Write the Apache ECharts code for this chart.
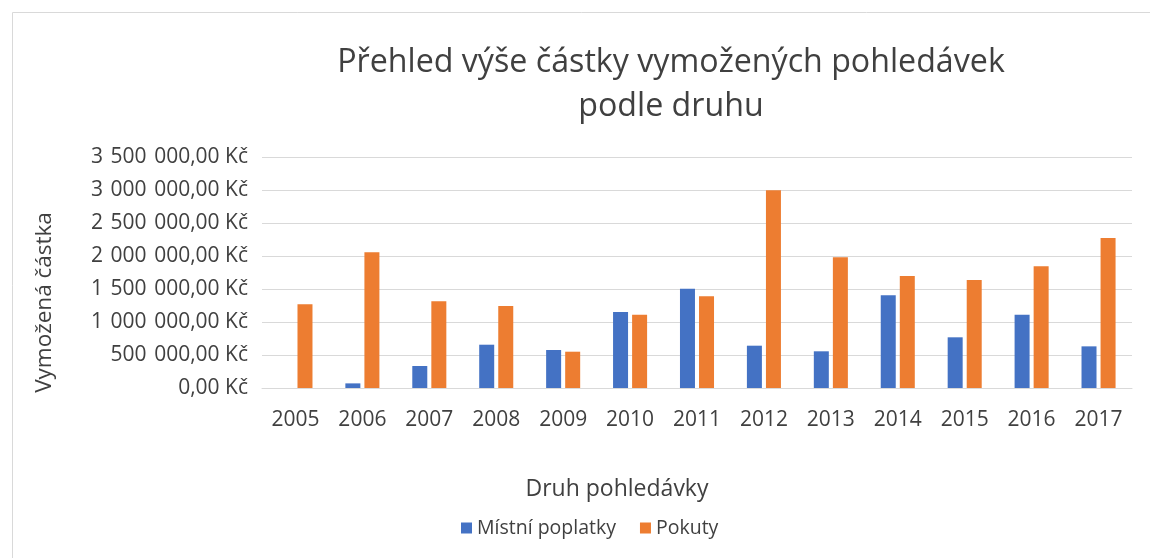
<!DOCTYPE html>
<html>
<head>
<meta charset="utf-8">
<script src="https://cdn.jsdelivr.net/npm/echarts@6/dist/echarts.min.js"></script>
<style>
  html, body { margin: 0; padding: 0; background: #fff; }
  #chart { width: 1150px; height: 558px; }
</style>
</head>
<body>
<div id="chart"></div>
<script>
const years = ['2005', '2006', '2007', '2008', '2009', '2010', '2011', '2012', '2013', '2014', '2015', '2016', '2017'];
const mistniPoplatky = [0, 70000, 333000, 656000, 576000, 1151000, 1505000, 641000, 556000, 1404000, 768000, 1111000, 631000];
const pokuty = [1268000, 2055000, 1313000, 1242000, 550000, 1111000, 1389000, 2995000, 1980000, 1697000, 1636000, 1843000, 2272000];

const font = 'Open Sans';

// thousands separator a bit wider than a plain space, like excel does
function formatKc(value) {
  const parts = value.toFixed(2).split('.');
  const whole = parts[0].replace(/\B(?=(\d{3})+(?!\d))/g, ' \u200A');
  return `${whole},${parts[1]} Kč`;
}

const chart = echarts.init(document.getElementById('chart'));

const option = {
  animation: false,
  color: ['#4472C4', '#ED7D31'],
  textStyle: {
    fontFamily: font,
  },
  title: {
    text: 'Přehled výše částky vymožených pohledávek\npodle druhu',
    left: 666,
    textAlign: 'center',
    top: 36,
    textStyle: {
      fontFamily: font,
      fontSize: 32.2,
      fontWeight: 'normal',
      color: '#404040',
      lineHeight: 44,
    },
  },
  graphic: [
    {
      type: 'rect',
      shape: { x: 12.5, y: 12.5, width: 1200, height: 600 },
      style: { fill: 'none', stroke: '#d9d9d9', lineWidth: 1 },
      silent: true,
    },
  ],
  grid: {
    left: 262,
    right: 18,
    top: 157,
    bottom: 170,
  },
  legend: {
    left: 456,
    top: 513,
    itemWidth: 11,
    itemHeight: 11,
    itemGap: 24,
    icon: 'rect',
    textStyle: {
      fontSize: 19.5,
      color: '#404040',
    },
    data: ['Místní poplatky', 'Pokuty'],
  },
  xAxis: {
    type: 'category',
    data: years,
    name: 'Druh pohledávky',
    nameLocation: 'middle',
    nameGap: 90,
    nameTextStyle: {
      fontSize: 23,
      color: '#404040',
      padding: [0, 160, 0, 0],
    },
    axisTick: { show: false },
    axisLine: { lineStyle: { color: '#d9d9d9', width: 1 } },
    axisLabel: {
      fontSize: 21,
      color: '#404040',
      margin: 22,
    },
  },
  yAxis: {
    type: 'value',
    min: 0,
    max: 3500000,
    interval: 500000,
    name: 'Vymožená částka',
    nameLocation: 'middle',
    nameGap: 206,
    nameTextStyle: {
      fontSize: 22.5,
      color: '#404040',
      padding: [0, 60, 0, 0],
    },
    axisLabel: {
      fontSize: 21,
      color: '#404040',
      margin: 14,
      formatter: formatKc,
    },
    splitLine: { lineStyle: { color: '#d9d9d9', width: 1 } },
  },
  series: [
    {
      name: 'Místní poplatky',
      type: 'bar',
      barWidth: 15,
      barGap: '27%',
      data: mistniPoplatky,
    },
    {
      name: 'Pokuty',
      type: 'bar',
      barWidth: 15,
      barGap: '27%',
      data: pokuty,
    },
  ],
};

chart.setOption(option);
</script>
</body>
</html>
